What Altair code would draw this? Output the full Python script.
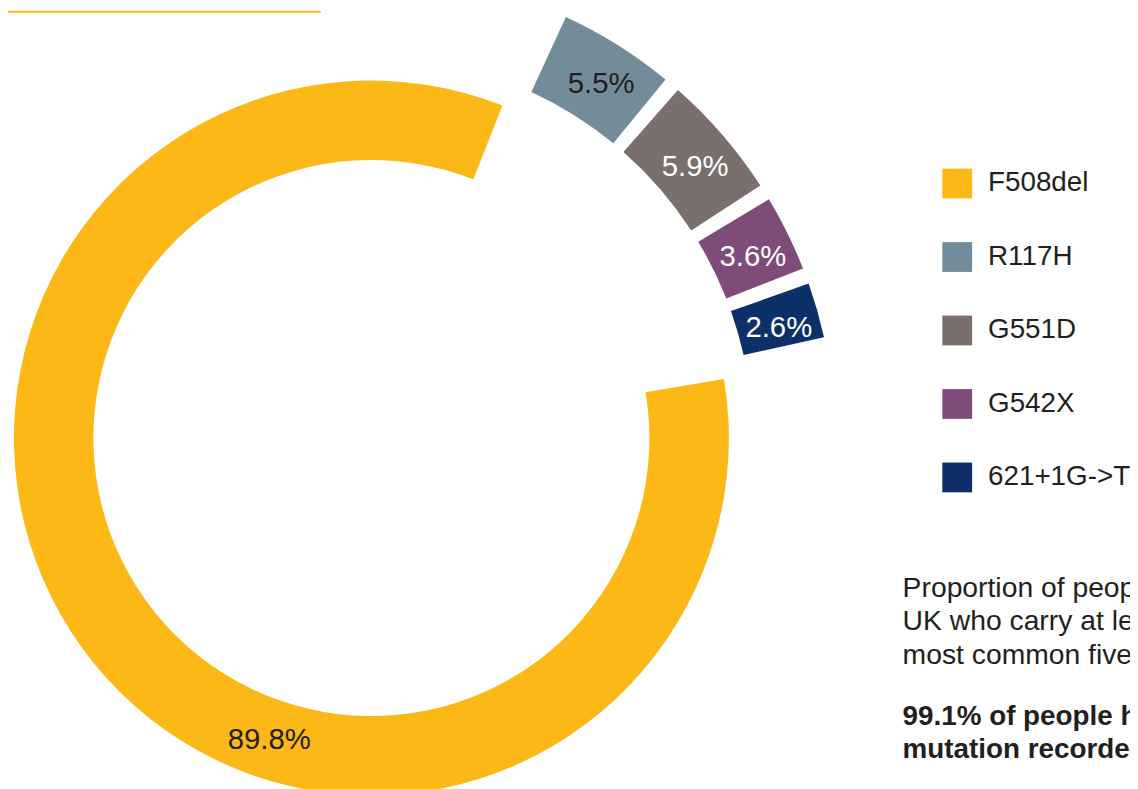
import math
import altair as alt
import pandas as pd

# ---- data ----
mutations = ["F508del", "R117H", "G551D", "G542X", "621+1G->T"]
percents = [89.8, 5.5, 5.9, 3.6, 2.6]
palette = ["#FBB817", "#738C99", "#7A6F6D", "#7F4C79", "#0E3068"]

para_lines = [
    "Proportion of people with CF in the",
    "UK who carry at least one of the",
    "most common five mutations",
]
bold_lines = [
    "99.1% of people have at least one",
    "mutation recorded",
]

# ---- layout / style ----
FONT = "Liberation Sans"
DARK = "#231F20"
CX, CY = 366.0, 430.3          # donut centre (svg px)
R_IN, R_OUT = 280, 360          # main ring
S_IN, S_OUT = 384, 467          # detached ring for small segments
MAIN_START = 80.5               # degrees, clockwise from north
SMALL_START = 24.8
SMALL_K = 2.65                  # degrees per percent on detached ring
SMALL_GAP = 2.0                 # degrees between detached segments
MAIN_LABEL_DEG = 198.7

df = pd.DataFrame({"Mutation": mutations, "pct": percents, "order": list(range(len(mutations)))})

theta_scale = alt.Scale(domain=[0, 360], range=[0, 2 * math.pi])


def base():
    return (
        alt.Chart(df)
        .transform_calculate(main="datum.Mutation == 'F508del'")
        .transform_joinaggregate(total="sum(pct)")
        .transform_window(
            cum="sum(pct)", rank="row_number()",
            groupby=["main"], sort=[alt.SortField("order")], frame=[None, 0],
        )
        .transform_calculate(
            t0=f"datum.main ? {MAIN_START} : {SMALL_START} + {SMALL_K}*(datum.cum - datum.pct) + {SMALL_GAP}*(datum.rank - 1)",
        )
        .transform_calculate(
            t1=f"datum.main ? {MAIN_START} + 360*datum.pct/datum.total : datum.t0 + {SMALL_K}*datum.pct",
        )
        .transform_calculate(
            tm="(datum.t0 + datum.t1)/2 + 0.9",
            label="format(datum.pct, '.1f') + '%'",
        )
    )


color = alt.Color(
    "Mutation:N",
    sort=mutations,
    scale=alt.Scale(domain=mutations, range=palette),
    legend=alt.Legend(
        title=None, orient="none", legendX=941, legendY=159,
        symbolType="square", symbolSize=900, symbolStrokeWidth=0, symbolOpacity=1,
        labelFont=FONT, labelFontSize=28, labelColor=DARK, labelOffset=16,
        rowPadding=44,
    ),
)

main_ring = base().transform_filter("datum.main").mark_arc().encode(
    theta=alt.Theta("t0:Q", stack=None, scale=theta_scale),
    theta2="t1:Q",
    radius=alt.value(R_OUT), radius2=alt.value(R_IN),
    x=alt.value(CX), y=alt.value(CY),
    color=color,
)

small_ring = base().transform_filter("!datum.main").mark_arc().encode(
    theta=alt.Theta("t0:Q", stack=None, scale=theta_scale),
    theta2="t1:Q",
    radius=alt.value(S_OUT), radius2=alt.value(S_IN),
    x=alt.value(CX), y=alt.value(CY),
    color=color,
)

small_labels = base().transform_filter("!datum.main").mark_text(
    font=FONT, fontSize=29.5, align="center", baseline="middle"
).encode(
    theta=alt.Theta("tm:Q", stack=None, scale=theta_scale),
    radius=alt.value(425),
    x=alt.value(CX), y=alt.value(CY),
    text="label:N",
    color=alt.condition("datum.Mutation == 'R117H'", alt.value(DARK), alt.value("#FFFFFF")),
)

main_label = base().transform_filter("datum.main").transform_calculate(
    tl=str(MAIN_LABEL_DEG)
).mark_text(
    font=FONT, fontSize=29.5, align="center", baseline="middle", color=DARK
).encode(
    theta=alt.Theta("tl:Q", stack=None, scale=theta_scale),
    radius=alt.value(321),
    x=alt.value(CX), y=alt.value(CY),
    text="label:N",
)

one = pd.DataFrame({"k": [0]})

para = alt.Chart(one).mark_text(
    font=FONT, fontSize=28.5, align="left", baseline="alphabetic", lineHeight=34, color=DARK
).encode(x=alt.value(901), y=alt.value(590), text=alt.value(para_lines))

bold = alt.Chart(one).mark_text(
    font=FONT, fontSize=28, fontWeight="bold", align="left", baseline="alphabetic",
    lineHeight=34, color=DARK
).encode(x=alt.value(901), y=alt.value(719), text=alt.value(bold_lines))

top_bar = alt.Chart(one).mark_rect(color=palette[0]).encode(
    x=alt.value(0), x2=alt.value(315), y=alt.value(0), y2=alt.value(2)
)

chart = (
    alt.layer(main_ring, small_ring, small_labels, main_label, para, bold, top_bar)
    .properties(width=1130, height=781, padding=0, autosize=alt.AutoSizeParams(type="none"))
    .configure_view(stroke=None)
)

chart.save("out.html", embed_options={"renderer": "svg", "actions": False})
